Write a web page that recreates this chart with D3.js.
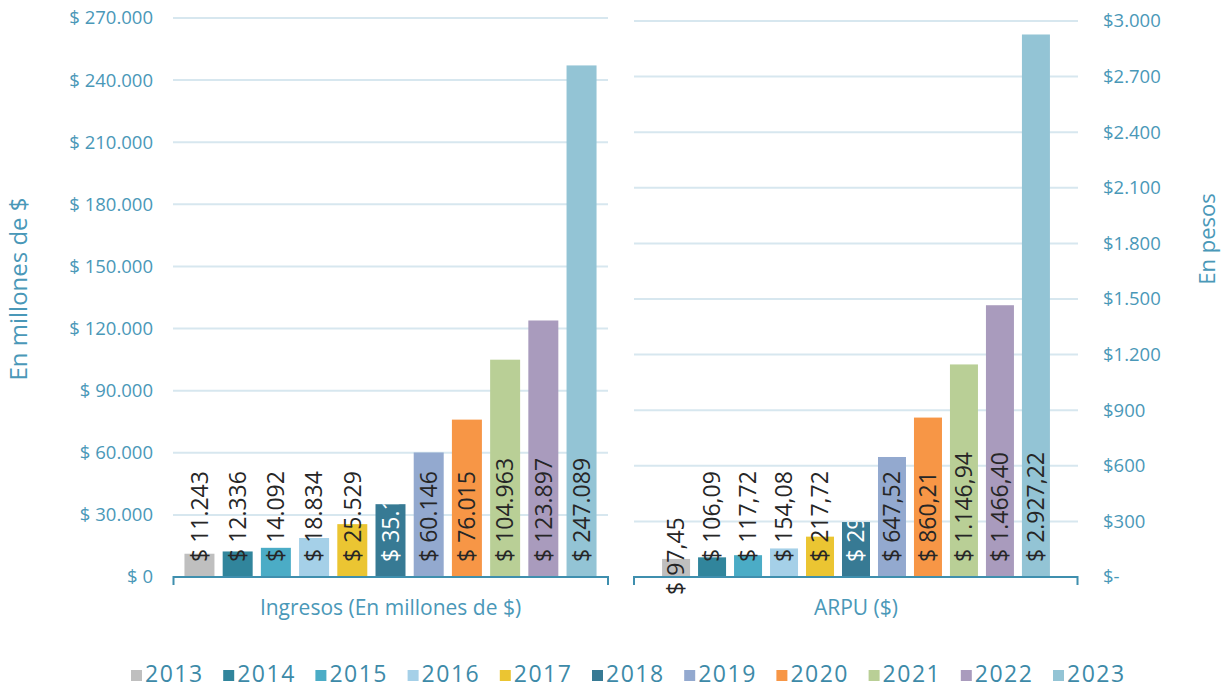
<!DOCTYPE html>
<html>
<head>
<meta charset="utf-8">
<script src="https://cdn.jsdelivr.net/npm/d3@7"></script>
<style>
  html, body { margin: 0; padding: 0; background: #ffffff; }
  svg { display: block; font-family: "Open Sans", "Noto Sans", sans-serif; }
</style>
</head>
<body>
<svg id="chart" width="1226" height="689"></svg>
<script>
// ---- data ----
const years = ["2013","2014","2015","2016","2017","2018","2019","2020","2021","2022","2023"];
const ingresos = [11243, 12336, 14092, 18834, 25529, 35176, 60146, 76015, 104963, 123897, 247089];
const arpu = [97.45, 106.09, 117.72, 154.08, 217.72, 296.50, 647.52, 860.21, 1146.94, 1466.40, 2927.22];
const leftTicks = [0, 30000, 60000, 90000, 120000, 150000, 180000, 210000, 240000, 270000];
const rightTicks = [0, 300, 600, 900, 1200, 1500, 1800, 2100, 2400, 2700, 3000];
const colors = ["#bfbfbf","#31859c","#4bacc6","#a5d0e8","#ebc532","#377a94","#93a9cf","#f79646","#b9cf96","#a99bbd","#93c4d5"];
const categoryLabels = ["Ingresos (En millones de $)", "ARPU ($)"];
const leftTitle = "En  millones de $";
const rightTitle = "En pesos";
const whiteLabelYears = ["2018"];

// ---- formats ----
const loc = d3.formatLocale({decimal: ",", thousands: ".", grouping: [3], currency: ["$", ""]});
const fInt = loc.format(",.0f");
const fDec = loc.format(",.2f");

const svg = d3.select("#chart");
const textBlue = "#4a98b8";
const axisBlue = "#3f8fae";
const gridColor = "#d7e7ef";

const baseY = 577;
const yL = d3.scaleLinear().domain([0, 270000]).range([baseY, 18]);
const yR = d3.scaleLinear().domain([0, 3000]).range([baseY, 21]);
const xL = d3.scaleBand().domain(years).range([173, 608]).paddingInner(0.215).paddingOuter(0.30);
const xR = d3.scaleBand().domain(years).range([634, 1078]).paddingInner(0.222).paddingOuter(0.78);

// gridlines
svg.append("g").selectAll("line").data(leftTicks.filter(d => d > 0)).join("line")
  .attr("x1", 173).attr("x2", 608).attr("y1", d => yL(d)).attr("y2", d => yL(d))
  .attr("stroke", gridColor).attr("stroke-width", 2);
svg.append("g").selectAll("line").data(rightTicks.filter(d => d > 0)).join("line")
  .attr("x1", 634).attr("x2", 1078).attr("y1", d => yR(d)).attr("y2", d => yR(d))
  .attr("stroke", gridColor).attr("stroke-width", 2);

// axes (labels only)
const axL = d3.axisLeft(yL).tickValues(leftTicks).tickSize(0).tickPadding(0)
  .tickFormat(d => "$ " + fInt(d));
const gL = svg.append("g").attr("transform", "translate(153,0)").call(axL);
gL.select(".domain").remove();
gL.selectAll("text").attr("fill", textBlue).style("font-size", "18.5px").style("font-family", "Open Sans");

const axR = d3.axisRight(yR).tickValues(rightTicks).tickSize(0).tickPadding(0)
  .tickFormat(d => d === 0 ? "$-" : "$" + fInt(d));
const gR = svg.append("g").attr("transform", "translate(1103,0)").call(axR);
gR.select(".domain").remove();
gR.selectAll("text").attr("fill", textBlue).style("font-size", "18.5px").style("font-family", "Open Sans");

// clip paths & bars
const defs = svg.append("defs");
function drawPanel(xs, ys, values, fmt, id, firstLabelDrop) {
  const g = svg.append("g");
  g.selectAll("rect").data(values).join("rect")
    .attr("x", (d, i) => xs(years[i]))
    .attr("width", xs.bandwidth())
    .attr("y", d => ys(d))
    .attr("height", d => baseY - ys(d))
    .attr("fill", (d, i) => colors[i]);
  values.forEach((v, i) => {
    const cx = xs(years[i]) + xs.bandwidth() / 2;
    const inside = whiteLabelYears.includes(years[i]);
    if (inside) {
      defs.append("clipPath").attr("id", id + i).append("rect")
        .attr("x", xs(years[i])).attr("width", xs.bandwidth())
        .attr("y", ys(v)).attr("height", baseY - ys(v));
    }
    const startY = baseY - 15 + (i === 0 ? firstLabelDrop : 0);
    const lg = g.append("g");
    if (inside) lg.attr("clip-path", "url(#" + id + i + ")");
    lg.append("text")
      .attr("transform", `translate(${cx},${startY}) rotate(-90)`)
      .attr("dy", "0.36em")
      .attr("text-anchor", "start")
      .attr("fill", inside ? "#ffffff" : "#262626")
      .style("font-size", "23px")
      .text("$ " + fmt(v));
  });
}
drawPanel(xL, yL, ingresos, fInt, "cl", 0);
drawPanel(xR, yR, arpu, fDec, "cr", 33);

// category axis lines (bracket style)
function bracket(x0, x1) {
  svg.append("path")
    .attr("d", `M${x0},${baseY + 8}V${baseY}H${x1}V${baseY + 8}`)
    .attr("fill", "none").attr("stroke", axisBlue).attr("stroke-width", 2);
}
bracket(173.5, 608);
bracket(634, 1077.5);

svg.append("text").attr("x", (173 + 608) / 2).attr("y", 615).attr("text-anchor", "middle")
  .attr("fill", textBlue).style("font-size", "21px").text(categoryLabels[0]);
svg.append("text").attr("x", (634 + 1078) / 2).attr("y", 615).attr("text-anchor", "middle")
  .attr("fill", textBlue).style("font-size", "21px").text(categoryLabels[1]);

// axis titles
svg.append("text").attr("transform", "translate(19,289) rotate(-90)").attr("dy", "0.35em")
  .attr("text-anchor", "middle").attr("fill", textBlue).style("font-size", "24px").text(leftTitle);
svg.append("text").attr("transform", "translate(1207,239) rotate(-90)").attr("dy", "0.35em")
  .attr("text-anchor", "middle").attr("fill", textBlue).style("font-size", "22px").text(rightTitle);

// legend
const legStep = 92.2;
const legX = d3.scaleLinear().domain([0, years.length - 1]).range([131, 131 + legStep * (years.length - 1)]);
const leg = svg.append("g");
years.forEach((y, i) => {
  leg.append("rect").attr("x", legX(i)).attr("y", 670).attr("width", 11).attr("height", 11).attr("fill", colors[i]);
  leg.append("text").attr("x", legX(i) + 14).attr("y", 682).attr("fill", "#3d8aa8")
    .style("font-size", "23px").style("letter-spacing", "1.5px").text(y);
});
</script>
</body>
</html>
